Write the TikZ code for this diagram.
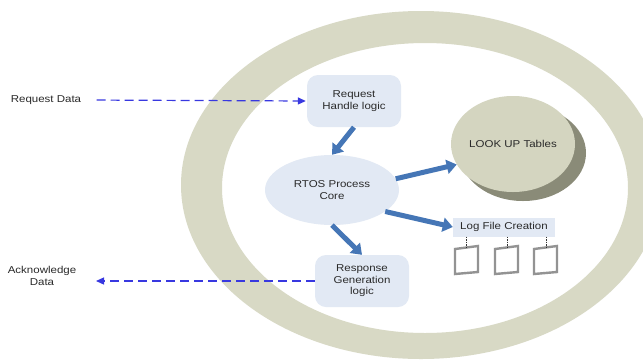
\documentclass[tikz,border=0pt]{standalone}
\usepackage{fontspec}
\setmainfont[FakeStretch=1.15]{Liberation Sans}
\usetikzlibrary{arrows.meta,shapes.geometric}
\definecolor{ringcol}{HTML}{D8D9C5}
\definecolor{nodecol}{HTML}{E2E9F4}
\definecolor{lookcol}{HTML}{D4D5C0}
\definecolor{shadcol}{HTML}{8A8B78}
\definecolor{blockcol}{HTML}{4576B6}
\definecolor{dashcol}{HTML}{3838E0}
\definecolor{txtcol}{HTML}{2A2A2A}
\tikzset{
  lbl/.style={font=\fontsize{10}{11.5}\selectfont, text=txtcol, align=center},
  logicbox/.style={lbl, fill=nodecol, rounded corners=11pt, minimum width=94pt, minimum height=52pt, inner sep=0pt},
  coreell/.style={lbl, ellipse, fill=nodecol, minimum width=134pt, minimum height=70pt, inner sep=0pt},
  lookell/.style={lbl, ellipse, fill=lookcol, minimum width=124pt, minimum height=96pt, inner sep=0pt},
  logbox/.style={lbl, fill=nodecol, minimum width=102pt, minimum height=19pt, inner sep=0pt},
  blockarrow/.style={draw=blockcol, line width=5pt, -{Triangle[width=14pt,length=10pt]}},
  dasharrow/.style={draw=dashcol, line width=1.2pt, dash pattern=on 9pt off 5pt, -{Triangle[width=7pt,length=8pt]}},
  filebox/.style={draw=gray!85, line width=2.4pt, line join=miter},
  tick/.style={draw=black!80, line width=0.9pt, dash pattern=on 1.5pt off 1pt}
}
\begin{document}
\begin{tikzpicture}[x=1pt,y=-1pt]
\useasboundingbox (0,0) rectangle (643,360);
\begin{scope}
\clip (0,0) rectangle (643,360);
\fill[white] (0,0) rectangle (643,360);
\fill[ringcol, even odd rule] (421,185) ellipse [x radius=240pt, y radius=174pt]
  (425,188) ellipse [x radius=203pt, y radius=145pt];
\end{scope}
% nodes
\node[logicbox] (req) at (354,101) {Request\\Handle logic};
\node[coreell] (rtos) at (332,190) {RTOS Process\\Core};
\node[logicbox] (resp) at (362,281) {Response\\Generation\\logic};
\fill[shadcol] (523,153) ellipse [x radius=63pt, y radius=48pt];
\node[lookell] (look) at (513,144) {LOOK UP Tables};
\node[logbox] (log) at (504,227) {Log File Creation};
\node[lbl] (reqdata) at (46,100) {Request Data};
\node[lbl] (ack) at (42,276) {Acknowledge\\Data};
\coordinate (ackend) at (96,281);
% file boxes
\draw[filebox] (455,249) -- (478,246) -- (478,272) -- (455,274) -- cycle;
\draw[filebox] (495,249) -- (518,246) -- (518,272) -- (495,274) -- cycle;
\draw[filebox] (534,249) -- (557,246) -- (557,272) -- (534,274) -- cycle;
\coordinate (f1) at (466,247.5);
\coordinate (f2) at (507,247.5);
\coordinate (f3) at (546,247.5);
\draw[tick] (log.south -| f1) -- (f1);
\draw[tick] (log.south -| f2) -- (f2);
\draw[tick] (log.south -| f3) -- (f3);
% block arrows
\draw[blockarrow] (req.south) -- (rtos.north);
\draw[blockarrow] (rtos.10) -- (look.200);
\draw[blockarrow] (rtos.-22) -- (log.west);
\draw[blockarrow] (rtos.south) -- (resp.north);
% dashed arrows
\draw[dasharrow, shorten <=12pt, shorten >=1pt] (reqdata.east) -- (req.west);
\draw[dasharrow] (resp.west) -- (ackend);
\end{tikzpicture}
\end{document}
